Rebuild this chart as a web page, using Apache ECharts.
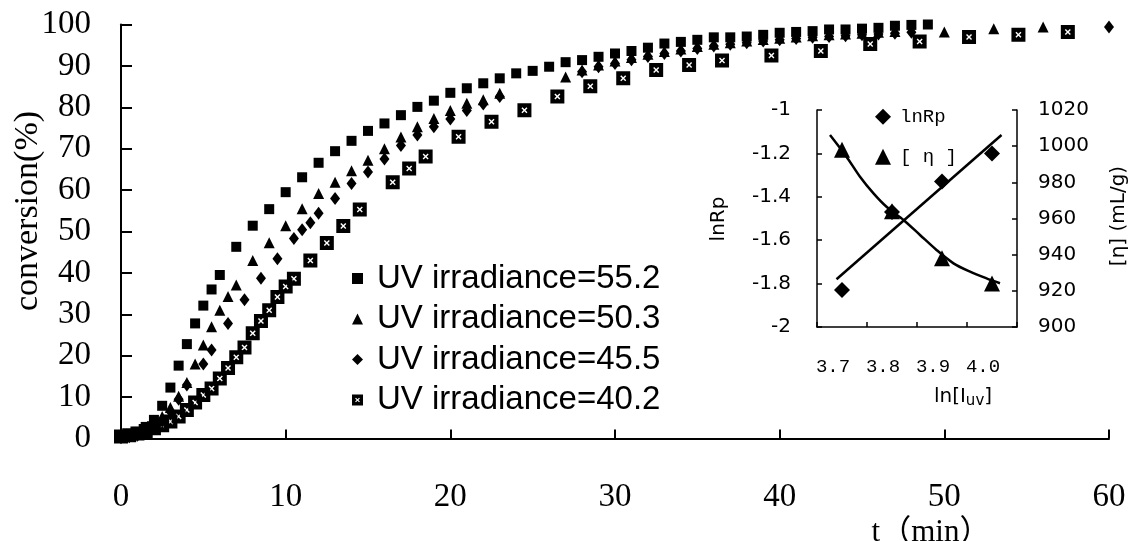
<!DOCTYPE html>
<html>
<head>
<meta charset="utf-8">
<script src="https://cdn.jsdelivr.net/npm/echarts@6/dist/echarts.min.js"></script>
<style>
html, body { margin: 0; padding: 0; background: #fff; }
#chart { width: 1129px; height: 541px; }
</style>
</head>
<body>
<div id="chart"></div>
<script>
// ---- Main panel: conversion (%) against time (min) for four UV irradiances ----
const t552 = [0,0.5,1,1.5,2,2.5,3,3.5,4,4.5,5,5.5,6,7,8,9,10,11,12,13,14,15,16,17,18,19,20,21,22,23,24,25,26,27,28,29,30,31,32,33,34,35,36,37,38,39,40,41,42,43,44,45,46,47,48,49];
const c552 = [0.3,0.8,1.6,2.8,4.5,7.9,12.3,17.6,22.8,27.8,32.1,36.0,39.5,46.3,51.4,55.4,59.5,63.1,66.6,69.4,71.9,74.3,76.1,78.1,80.1,81.6,83.5,84.6,85.8,87.0,88.2,88.8,89.8,90.9,91.4,92.2,93.0,93.6,94.4,95.4,95.8,96.3,96.9,96.9,97.1,97.5,98.0,98.2,98.4,98.8,98.8,99.0,99.2,99.7,99.9,100.0];

const t503 = [0,0.5,1,1.5,2,2.5,3,3.5,4,4.5,5,5.5,6,6.5,7,8,9,10,11,12,13,14,15,16,17,18,19,20,21,22,23,27,28,29,30,31,32,33,34,35,36,37,38,39,40,41,42,43,44,45,46,47,50,53,56];
const c503 = [0.3,0.6,1.0,1.8,3.2,5.3,7.5,10.2,13.5,18.0,22.6,27.0,31.0,34.3,37.1,43.0,47.3,51.4,55.5,59.2,61.9,64.7,67.2,70.0,72.8,75.3,77.3,79.2,81.0,81.8,83.4,87.3,89.0,90.2,91.2,92.0,92.8,93.5,94.1,94.7,95.2,95.6,96.0,96.4,96.7,97.0,97.3,97.5,97.7,97.9,98.1,98.3,98.2,99.0,99.4];

const t455 = [0,0.5,1,1.5,2,2.5,3,3.5,4,5,5.5,6.5,7.5,8.5,9.5,10.5,11,11.5,12,13,14,15,16,17,18,19,20,21,22,23,28,29,30,31,32,33,34,35,36,37,38,39,40,41,42,43,44,45,46,47,48,60];
const c455 = [0.2,0.4,0.8,1.5,2.7,4.2,6.5,9.5,12.9,18.0,21.4,27.8,33.5,38.7,43.4,48.3,50.4,52.1,54.4,58.0,61.6,64.4,67.5,70.8,73.3,75.3,77.2,79.2,80.8,82.6,88.6,89.8,90.6,91.5,92.3,93.0,93.6,94.2,94.8,95.2,95.6,96.0,96.3,96.6,96.9,97.1,97.3,97.5,97.7,97.9,98.1,99.4];

const t402 = [0,0.5,1,1.5,2,2.5,3,3.5,4,4.5,5,5.5,6,6.5,7,7.5,8,8.5,9,9.5,10,10.5,11.5,12.5,13.5,14.5,16.5,17.5,18.5,20.5,22.5,24.5,26.5,28.5,30.5,32.5,34.5,36.5,39.5,42.5,45.5,48.5,51.5,54.5,57.5];
const c402 = [0.5,0.8,1.2,1.8,2.5,3.2,4.1,5.3,6.9,8.7,10.5,12.1,14.5,17.0,19.6,22.0,25.4,28.4,31.0,34.2,36.7,38.6,43.0,47.2,51.3,55.3,61.9,65.2,68.1,72.9,76.5,79.3,82.6,85.1,87.0,89.0,90.2,91.3,92.5,93.6,95.3,95.9,97.0,97.5,98.2];

const seriesNames = ['UV irradiance=55.2', 'UV irradiance=50.3', 'UV irradiance=45.5', 'UV irradiance=40.2'];

// ---- Inset: ln Rp and [η] against ln(I_uv) ----
const lnIuvLabels = ['3.7', '3.8', '3.9', '4.0'];
const lnRp = [-1.83, -1.47, -1.33, -1.20];
const eta = [998, 964, 938, 924];
// fitted curves, given as (category position, value)
const lnRpFitX = [-0.11, 3.19];
const lnRpFitY = [-1.78, -1.115];
const etaFitX = [-0.24, 0.09, 0.36, 0.63, 0.89, 1.23, 1.56, 1.89, 2.23, 2.56, 2.89, 3.16];
const etaFitY = [1006.2, 994.2, 983.1, 973.9, 966.5, 959.2, 950.9, 942.6, 935.2, 930.6, 926.9, 924.2];

const zip = (xs, ys) => xs.map((x, i) => [x, ys[i]]);

const serif = '"Liberation Serif", "Times New Roman", "Noto Sans CJK SC", serif';
const sans = '"DejaVu Sans", sans-serif';
const legendSans = '"Liberation Sans", Arial, sans-serif';
const mono = '"Liberation Mono", "DejaVu Sans Mono", monospace';
const ink = '#000';
// black square with a small white cross cut out of it
const boxedCross = 'path://M0 0H14V14H0Z M6 7L4 9L5 10L7 8L9 10L10 9L8 7L10 5L9 4L7 6L5 4L4 5Z';
const solid = { color: ink, opacity: 1 };

const chart = echarts.init(document.getElementById('chart'), null, { renderer: 'canvas' });

const option = {
  animation: false,
  backgroundColor: '#fff',
  grid: [
    { left: 121, right: 20, top: 24.5, bottom: 102.5, outerBoundsMode: 'none', containLabel: false },
    { left: 817, right: 112, top: 110, bottom: 214, outerBoundsMode: 'none', containLabel: false }
  ],
  xAxis: [
    {
      gridIndex: 0, type: 'value', min: 0, max: 60, interval: 10,
      axisLine: { show: true, onZero: false, lineStyle: { color: ink, width: 2 } },
      axisTick: { show: true, inside: true, length: 9, lineStyle: { color: ink, width: 2 } },
      axisLabel: { color: ink, fontFamily: serif, fontSize: 33, margin: 42 },
      splitLine: { show: false }
    },
    {
      gridIndex: 1, type: 'category', data: lnIuvLabels, boundaryGap: true, position: 'bottom',
      axisLine: { show: true, onZero: false, lineStyle: { color: ink, width: 1.5 } },
      axisTick: { show: true, inside: true, length: 5, lineStyle: { color: ink, width: 1.5 } },
      axisLabel: { color: ink, fontFamily: mono, fontSize: 19, margin: 30, padding: [0, 18, 0, 0] },
      splitLine: { show: false }
    },
    { gridIndex: 1, type: 'value', min: -0.5, max: 3.5, show: false, position: 'top' }
  ],
  yAxis: [
    {
      gridIndex: 0, type: 'value', min: 0, max: 100, interval: 10,
      axisLine: { show: true, onZero: false, lineStyle: { color: ink, width: 2 } },
      axisTick: { show: true, inside: true, length: 11, lineStyle: { color: ink, width: 2 } },
      axisLabel: { color: ink, fontFamily: serif, fontSize: 33, margin: 30, padding: [7, 0, 0, 0] },
      splitLine: { show: false }
    },
    {
      gridIndex: 1, type: 'value', position: 'left', min: -2, max: -1, interval: 0.2,
      axisLine: { show: true, onZero: false, lineStyle: { color: ink, width: 1.5 } },
      axisTick: { show: true, inside: true, length: 5, lineStyle: { color: ink, width: 1.5 } },
      axisLabel: { color: ink, fontFamily: sans, fontSize: 20, margin: 26 },
      splitLine: { show: false }
    },
    {
      gridIndex: 1, type: 'value', position: 'right', min: 900, max: 1020, interval: 20,
      axisLine: { show: true, onZero: false, lineStyle: { color: ink, width: 1.5 } },
      axisTick: { show: true, inside: true, length: 5, lineStyle: { color: ink, width: 1.5 } },
      axisLabel: { color: ink, fontFamily: sans, fontSize: 20, margin: 21, formatter: (v) => String(v) },
      splitLine: { show: false }
    }
  ],
  legend: [
    {
      data: seriesNames, orient: 'vertical', left: 347, top: 257,
      itemWidth: 11, itemHeight: 11, itemGap: 7.5, selectedMode: false,
      itemStyle: { opacity: 1 },
      textStyle: { color: ink, fontFamily: legendSans, fontSize: 33, lineHeight: 32, padding: [0, 0, 0, 9] }
    },
    {
      data: ['lnRp', '[ η ]'], orient: 'vertical', left: 870, top: 101.7,
      itemWidth: 16, itemHeight: 16, itemGap: 20, selectedMode: false,
      itemStyle: { opacity: 1 },
      textStyle: { color: ink, fontFamily: mono, fontSize: 19, lineHeight: 20, padding: [0, 0, 0, 4] }
    }
  ],
  graphic: [
    {
      type: 'text', x: 28, y: 211, rotation: Math.PI / 2,
      style: { text: 'conversion(%)', fill: ink, font: '34px ' + serif, align: 'center', verticalAlign: 'middle' }
    },
    {
      type: 'text', x: 931, y: 517,
      style: { text: 't（min）', fill: ink, font: '31px ' + serif, align: 'center', verticalAlign: 'top' }
    },
    {
      type: 'text', x: 719, y: 219, rotation: Math.PI / 2,
      style: { text: 'lnRp', fill: ink, font: '20px ' + sans, align: 'center', verticalAlign: 'middle' }
    },
    {
      type: 'text', x: 1119, y: 216, rotation: Math.PI / 2,
      style: { text: '[η] (mL/g)', fill: ink, font: '20px ' + sans, align: 'center', verticalAlign: 'middle' }
    },
    {
      type: 'text', x: 963, y: 397,
      style: {
        text: 'ln[I{s|uv}]', fill: ink, font: '20px ' + sans, align: 'center', verticalAlign: 'middle',
        rich: { s: { fontFamily: sans, fontSize: 15, fill: ink, padding: [8, 0, 0, 0] } }
      }
    }
  ],
  series: [
    {
      name: seriesNames[0], type: 'scatter', xAxisIndex: 0, yAxisIndex: 0,
      data: zip(t552, c552), symbol: 'rect', symbolSize: 10, itemStyle: solid
    },
    {
      name: seriesNames[1], type: 'scatter', xAxisIndex: 0, yAxisIndex: 0,
      data: zip(t503, c503), symbol: 'triangle', symbolSize: 11, itemStyle: solid
    },
    {
      name: seriesNames[2], type: 'scatter', xAxisIndex: 0, yAxisIndex: 0,
      data: zip(t455, c455), symbol: 'diamond', symbolSize: [10, 13], itemStyle: solid
    },
    {
      name: seriesNames[3], type: 'scatter', xAxisIndex: 0, yAxisIndex: 0,
      data: zip(t402, c402), symbol: boxedCross, symbolSize: 14, itemStyle: solid
    },
    {
      name: 'lnRp fit', type: 'line', xAxisIndex: 2, yAxisIndex: 1,
      data: zip(lnRpFitX, lnRpFitY), symbol: 'none', silent: true,
      lineStyle: { color: ink, width: 2.5 }
    },
    {
      name: '[η] fit', type: 'line', xAxisIndex: 2, yAxisIndex: 2, smooth: 0.3,
      data: zip(etaFitX, etaFitY), symbol: 'none', silent: true,
      lineStyle: { color: ink, width: 2.5 }
    },
    {
      name: 'lnRp', type: 'scatter', xAxisIndex: 1, yAxisIndex: 1,
      data: lnRp, symbol: 'diamond', symbolSize: 16, itemStyle: solid
    },
    {
      name: '[ η ]', type: 'scatter', xAxisIndex: 1, yAxisIndex: 2,
      data: eta, symbol: 'triangle', symbolSize: 16, itemStyle: solid
    }
  ]
};

chart.setOption(option);
</script>
</body>
</html>
